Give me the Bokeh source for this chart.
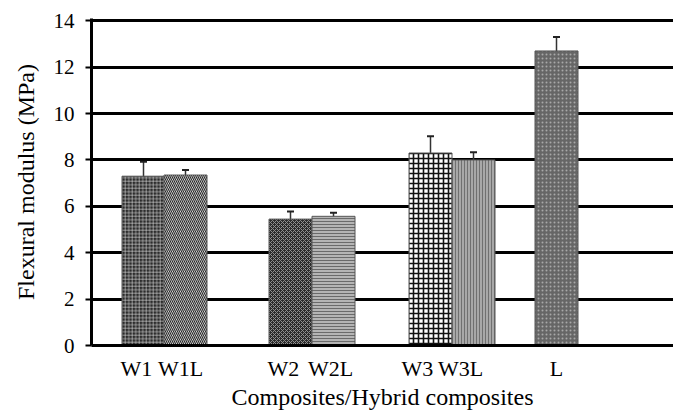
from bokeh.plotting import figure
from bokeh.models import Range1d, FixedTicker, ColumnDataSource, Whisker
from bokeh.embed import file_html
from bokeh.resources import INLINE

# ---- data ----
categories = ["W1", "W1L", "W2", "W2L", "W3", "W3L", "L"]
modulus = [7.3, 7.35, 5.45, 5.57, 8.3, 8.0, 12.7]
errors = [0.62, 0.22, 0.33, 0.15, 0.72, 0.33, 0.6]
y_ticks = [0, 2, 4, 6, 8, 10, 12, 14]

# ---- layout (horizontal placement of bars, in frame units) ----
bar_centers = [52, 94, 199, 242, 339, 382, 465]
bar_width = 43
label_shifts = [-7, -5, -7, -3, -13, -13, 0]

fills = ["#2c2c2c", "#f4f4f4", "#2a2a2a", "#b4b4b4", "#ffffff", "#a8a8a8", "#666666"]
hatches = ["+", "\\", "x", "-", "+", "|", "."]
hatch_colors = ["#d8d8d8", "#2a2a2a", "#909090", "#6a6a6a", "#111111", "#707070", "#a8a8a8"]
hatch_scales = [3.5, 4, 4, 3, 5, 3, 4]
hatch_weights = [0.6, 1.2, 1.0, 1.0, 1.6, 1.0, 1.0]

src = ColumnDataSource(dict(
    x=bar_centers, top=modulus,
    upper=[m + e for m, e in zip(modulus, errors)],
    lower=[m - e for m, e in zip(modulus, errors)],
    fill=fills, hatch=hatches, hcol=hatch_colors, hscale=hatch_scales, hw=hatch_weights,
))

p = figure(width=673, height=412, output_backend="svg", toolbar_location=None,
           x_range=Range1d(0, 582), y_range=Range1d(0, 14.1),
           min_border_left=91, min_border_right=0, min_border_top=18, min_border_bottom=67)
p.outline_line_color = None
p.background_fill_color = "white"

p.vbar(x="x", top="top", width=bar_width, bottom=0, source=src,
       fill_color="fill", line_color="#555555", line_width=1,
       hatch_pattern="hatch", hatch_color="hcol", hatch_scale="hscale", hatch_weight="hw")

w = Whisker(source=src, base="x", upper="upper", lower="lower",
            line_color="#333333", line_width=1.5)
for h in (w.upper_head, w.lower_head):
    h.size = 7
    h.line_color = "#222222"
    h.line_width = 2
p.add_layout(w)

font = "Liberation Serif"
# y axis
p.yaxis.ticker = FixedTicker(ticks=y_ticks)
p.yaxis.axis_line_color = "black"
p.yaxis.axis_line_width = 3
p.yaxis.major_tick_line_color = "black"
p.yaxis.major_tick_line_width = 2
p.yaxis.major_tick_out = 6
p.yaxis.major_tick_in = 0
p.yaxis.minor_tick_line_color = None
p.yaxis.major_label_text_font = font
p.yaxis.major_label_text_font_size = "21px"
p.yaxis.major_label_text_color = "black"
p.yaxis.major_label_standoff = 11
p.yaxis.axis_label = "Flexural modulus (MPa)"
p.yaxis.axis_label_text_font = font
p.yaxis.axis_label_text_font_size = "24px"
p.yaxis.axis_label_text_font_style = "normal"
p.yaxis.axis_label_text_color = "black"
p.yaxis.axis_label_standoff = 12

# x axis
label_pos = [c + s for c, s in zip(bar_centers, label_shifts)]
p.xaxis.ticker = FixedTicker(ticks=label_pos)
p.xaxis.major_label_overrides = {lp: c for lp, c in zip(label_pos, categories)}
p.xaxis.axis_line_color = "black"
p.xaxis.axis_line_width = 3
p.xaxis.major_tick_line_color = None
p.xaxis.minor_tick_line_color = None
p.xaxis.major_label_text_font = font
p.xaxis.major_label_text_font_size = "22px"
p.xaxis.major_label_text_color = "black"
p.xaxis.major_label_standoff = 4
p.xaxis.axis_label = "Composites/Hybrid composites"
p.xaxis.axis_label_text_font = font
p.xaxis.axis_label_text_font_size = "24px"
p.xaxis.axis_label_text_font_style = "normal"
p.xaxis.axis_label_text_color = "black"
p.xaxis.axis_label_standoff = 0

p.xgrid.grid_line_color = None
p.ygrid.ticker = FixedTicker(ticks=y_ticks)
p.ygrid.grid_line_color = "black"
p.ygrid.grid_line_width = 3
p.ygrid.level = "underlay"

open("out.html", "w").write(file_html(p, INLINE))
